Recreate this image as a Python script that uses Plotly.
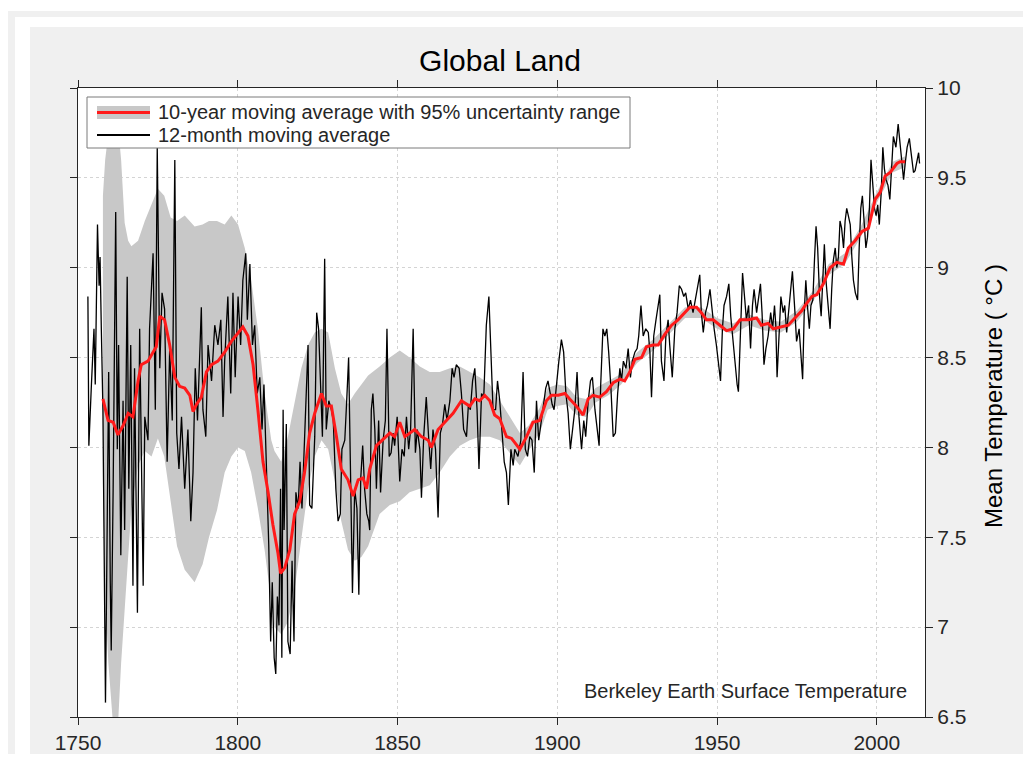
import plotly.graph_objects as go

# ---------------- data ----------------
black_year = [
    1753.1, 1753.4, 1754.2, 1755.0, 1755.4, 1756.1, 1756.6, 1756.9, 1757.3, 1757.8,
    1758.6, 1759.2, 1759.6, 1760.1, 1760.4, 1761.0, 1761.8, 1762.3, 1762.7, 1763.4,
    1764.1, 1764.6, 1765.4, 1765.9, 1766.5, 1767.2, 1767.7, 1768.6, 1769.3, 1770.4,
    1770.9, 1771.9, 1772.4, 1773.5, 1774.2, 1774.8, 1775.6, 1776.3, 1777.1, 1777.9,
    1778.7, 1779.5, 1780.3, 1780.9, 1781.6, 1782.4, 1783.4, 1784.4, 1785.3, 1786.0,
    1786.7, 1787.4, 1788.1, 1788.6, 1789.1, 1790.0, 1790.7, 1791.8, 1792.8, 1793.8,
    1794.7, 1795.4, 1795.9, 1796.9, 1797.8, 1798.5, 1799.2, 1800.1, 1800.9, 1801.6,
    1802.5, 1803.0, 1803.8, 1804.6, 1805.3, 1806.1, 1806.9, 1807.6, 1808.2, 1808.9,
    1809.7, 1810.3, 1810.8, 1811.4, 1811.9, 1812.4, 1812.9, 1813.4, 1813.8, 1814.2,
    1814.5, 1815.2, 1815.7, 1816.4, 1817.0, 1817.6, 1818.2, 1818.9, 1819.5, 1820.1,
    1820.9, 1821.8, 1822.0, 1822.5, 1823.2, 1824.1, 1824.7, 1825.3, 1826.0, 1826.5,
    1827.2, 1827.7, 1828.5, 1829.3, 1829.9, 1830.7, 1831.4, 1832.1, 1832.6, 1833.5,
    1834.1, 1834.7, 1835.4, 1835.9, 1836.6, 1837.3, 1837.9, 1838.5, 1839.1, 1839.7,
    1840.4, 1841.0, 1841.3, 1841.8, 1842.3, 1842.9, 1843.4, 1844.1, 1844.7, 1845.5,
    1846.2, 1846.7, 1847.4, 1848.0, 1848.6, 1849.1, 1849.9, 1850.7, 1851.4, 1852.1,
    1852.8, 1853.5, 1854.1, 1854.9, 1855.6, 1856.2, 1857.0, 1857.5, 1858.2, 1859.0,
    1859.8, 1860.4, 1861.1, 1861.9, 1862.7, 1863.4, 1864.1, 1864.8, 1865.5, 1866.4,
    1867.1, 1867.7, 1868.4, 1869.3, 1870.0, 1870.7, 1871.6, 1872.2, 1872.8, 1873.5,
    1874.2, 1874.9, 1875.5, 1876.3, 1877.0, 1877.8, 1878.6, 1879.2, 1879.9, 1880.7,
    1881.3, 1882.0, 1882.7, 1883.4, 1884.1, 1884.7, 1885.5, 1886.2, 1886.7, 1887.7,
    1888.6, 1889.3, 1890.0, 1890.7, 1891.4, 1892.1, 1892.8, 1893.5, 1894.2, 1895.1,
    1895.9, 1896.4, 1897.1, 1897.7, 1898.4, 1899.0, 1899.7, 1900.5, 1901.3, 1902.0,
    1902.7, 1903.4, 1904.1, 1904.8, 1905.5, 1906.2, 1906.8, 1907.6, 1908.3, 1908.9,
    1909.7, 1910.4, 1911.0, 1911.8, 1912.5, 1913.1, 1913.6, 1914.3, 1914.9, 1915.5,
    1916.1, 1916.8, 1917.5, 1918.2, 1918.9, 1919.6, 1920.1, 1920.7, 1921.5, 1922.2,
    1922.9, 1923.5, 1924.3, 1925.0, 1925.5, 1926.2, 1926.9, 1927.7, 1928.5, 1929.0,
    1929.5, 1930.2, 1930.9, 1931.4, 1932.1, 1932.6, 1933.4, 1934.0, 1934.7, 1935.2,
    1936.0, 1936.8, 1937.5, 1938.2, 1938.9, 1939.6, 1940.2, 1941.0, 1941.7, 1942.5,
    1943.4, 1944.1, 1944.6, 1945.1, 1945.7, 1946.4, 1947.0, 1947.8, 1948.5, 1949.1,
    1949.8, 1950.6, 1951.1, 1951.7, 1952.2, 1953.0, 1953.7, 1954.3, 1955.1, 1955.7,
    1956.3, 1956.7, 1957.4, 1958.0, 1958.7, 1959.2, 1959.9, 1960.5, 1961.1, 1961.6,
    1962.4, 1963.0, 1963.6, 1964.1, 1964.7, 1965.3, 1966.0, 1966.8, 1967.4, 1968.0,
    1968.4, 1968.8, 1969.5, 1970.0, 1970.7, 1971.2, 1971.8, 1972.3, 1973.0, 1973.6,
    1974.4, 1974.9, 1975.7, 1976.5, 1976.8, 1977.3, 1977.8, 1978.3, 1978.9, 1979.4,
    1980.0, 1980.5, 1981.0, 1981.5, 1982.1, 1982.6, 1983.1, 1983.6, 1984.1, 1984.7,
    1985.4, 1985.9, 1986.4, 1987.0, 1987.5, 1988.0, 1988.5, 1989.0, 1989.6, 1990.1,
    1990.6, 1991.1, 1991.7, 1992.2, 1992.7, 1993.3, 1994.0, 1994.5, 1995.0, 1995.5,
    1996.0, 1996.6, 1997.1, 1997.7, 1998.2, 1998.8, 1999.3, 1999.8, 2000.3, 2000.8,
    2001.4, 2001.9, 2002.4, 2002.9, 2003.5, 2004.1, 2004.6, 2005.2, 2006.0, 2006.7,
    2007.3, 2007.8, 2008.4, 2008.9, 2009.5, 2010.2, 2011.0, 2011.5, 2012.0, 2012.5,
    2013.1, 2013.4,
]
black_temp = [
    8.84, 8.01, 8.35, 8.66, 8.35, 9.24, 8.90, 9.06, 8.66, 8.21,
    6.58, 7.77, 8.42, 7.25, 6.87, 7.77, 9.31, 7.99, 8.57, 7.40,
    8.26, 7.54, 8.95, 7.77, 8.57, 7.23, 8.44, 7.08, 8.66, 7.23,
    8.17, 8.04, 8.66, 9.08, 8.21, 9.67, 8.44, 8.86, 8.77, 7.92,
    8.55, 8.15, 9.60, 8.08, 7.88, 8.17, 7.77, 8.10, 7.59, 7.86,
    8.44, 8.15, 8.53, 8.78, 8.21, 8.06, 8.57, 8.37, 8.68, 8.57,
    8.71, 8.17, 8.48, 8.84, 8.30, 8.86, 8.39, 8.84, 8.57, 8.93,
    9.08, 8.71, 9.02, 8.57, 8.68, 8.30, 8.39, 8.10, 8.35, 7.90,
    7.46, 6.92, 7.25, 6.83, 6.74, 7.17, 7.01, 7.77, 6.83, 8.21,
    7.54, 8.13, 6.92, 6.85, 7.37, 6.92, 7.75, 7.66, 7.92, 7.66,
    8.08, 8.48, 8.57, 7.68, 7.66, 8.06, 8.75, 8.66, 8.33, 8.06,
    9.05, 8.10, 8.26, 8.21, 8.15, 7.77, 7.59, 7.63, 7.99, 8.04,
    8.26, 8.50, 7.75, 7.19, 7.77, 7.66, 7.18, 7.83, 8.01, 7.77,
    7.63, 7.59, 7.54, 8.21, 8.30, 8.10, 7.77, 8.15, 7.75, 8.04,
    8.15, 8.66, 7.95, 7.97, 8.08, 8.01, 8.17, 7.81, 7.99, 7.95,
    8.17, 7.99, 8.10, 8.66, 7.97, 8.10, 7.99, 7.72, 8.06, 8.28,
    8.04, 7.88, 8.10, 7.99, 7.61, 8.08, 8.13, 8.24, 8.15, 8.26,
    8.44, 8.39, 8.46, 8.44, 8.30, 8.10, 8.06, 8.24, 8.21, 8.37,
    8.44, 8.21, 7.88, 8.30, 8.28, 8.68, 8.84, 8.57, 8.21, 8.21,
    8.37, 8.26, 8.10, 7.92, 7.86, 7.68, 7.99, 7.90, 7.99, 7.95,
    8.04, 8.42, 7.99, 7.95, 8.06, 8.04, 7.86, 8.26, 8.04, 8.15,
    8.26, 8.33, 8.37, 8.30, 8.24, 8.21, 8.35, 8.48, 8.60, 8.53,
    8.30, 8.19, 7.99, 8.10, 8.21, 8.42, 8.17, 7.99, 8.15, 8.06,
    8.26, 8.37, 8.39, 8.21, 8.08, 8.01, 8.35, 8.66, 8.62, 8.66,
    8.53, 8.33, 8.06, 8.08, 8.30, 8.44, 8.37, 8.48, 8.44, 8.55,
    8.39, 8.48, 8.53, 8.55, 8.62, 8.79, 8.62, 8.66, 8.64, 8.53,
    8.28, 8.62, 8.71, 8.77, 8.85, 8.48, 8.37, 8.62, 8.71, 8.57,
    8.39, 8.66, 8.75, 8.90, 8.88, 8.84, 8.86, 8.77, 8.82, 8.75,
    8.84, 8.91, 8.96, 8.75, 8.64, 8.75, 8.79, 8.88, 8.75, 8.66,
    8.57, 8.44, 8.37, 8.66, 8.79, 8.84, 8.91, 8.73, 8.57, 8.44,
    8.35, 8.31, 8.66, 8.97, 8.82, 8.71, 8.79, 8.55, 8.79, 8.88,
    8.75, 8.82, 8.91, 8.75, 8.46, 8.55, 8.62, 8.75, 8.66, 8.79,
    8.68, 8.39, 8.66, 8.84, 8.75, 8.79, 8.64, 8.73, 8.88, 8.98,
    8.75, 8.59, 8.66, 8.44, 8.38, 8.75, 8.93, 8.79, 8.66, 8.79,
    8.82, 9.04, 9.23, 9.11, 8.84, 8.73, 8.97, 9.13, 8.93, 8.79,
    8.66, 8.88, 9.04, 9.11, 9.00, 9.06, 9.26, 9.22, 9.11, 9.26,
    9.33, 9.29, 9.24, 9.06, 8.93, 8.86, 8.82, 9.11, 9.33, 9.40,
    9.24, 9.11, 9.17, 9.33, 9.60, 9.46, 9.33, 9.29, 9.35, 9.24,
    9.42, 9.67, 9.55, 9.49, 9.46, 9.38, 9.55, 9.73, 9.67, 9.80,
    9.69, 9.60, 9.49, 9.58, 9.67, 9.72, 9.60, 9.53, 9.54, 9.58,
    9.64, 9.58,
]

red_year = [
    1757.8, 1759.4, 1761.0, 1762.5, 1764.1, 1765.7, 1767.2, 1768.8, 1769.8, 1771.9,
    1773.5, 1774.5, 1775.6, 1777.1, 1778.7, 1780.3, 1781.8, 1783.4, 1785.0, 1786.0,
    1787.1, 1788.6, 1790.2, 1791.8, 1793.8, 1795.9, 1798.0, 1800.1, 1801.6, 1803.2,
    1804.8, 1806.3, 1807.9, 1809.5, 1811.0, 1812.6, 1813.4, 1814.7, 1816.3, 1817.8,
    1819.4, 1820.9, 1822.5, 1824.1, 1826.2, 1827.7, 1829.3, 1830.9, 1832.4, 1834.5,
    1836.1, 1837.7, 1839.2, 1840.3, 1841.3, 1843.4, 1846.0, 1847.6, 1849.1, 1850.7,
    1852.3, 1855.4, 1857.5, 1859.6, 1860.6, 1862.7, 1865.3, 1867.4, 1870.0, 1872.6,
    1874.2, 1875.7, 1877.3, 1878.9, 1880.4, 1882.0, 1884.1, 1885.7, 1888.3, 1890.4,
    1892.4, 1894.5, 1896.6, 1898.2, 1900.3, 1902.4, 1903.9, 1906.0, 1908.1, 1909.7,
    1911.2, 1913.3, 1915.4, 1917.5, 1919.6, 1921.1, 1922.7, 1924.3, 1926.4, 1927.9,
    1930.0, 1931.6, 1933.7, 1935.8, 1937.8, 1939.4, 1941.5, 1943.6, 1945.1, 1946.7,
    1948.8, 1950.9, 1953.0, 1955.1, 1957.2, 1959.8, 1962.4, 1963.9, 1966.0, 1967.6,
    1970.2, 1972.3, 1974.4, 1976.5, 1977.6, 1979.7, 1981.2, 1983.3, 1985.4, 1987.5,
    1989.6, 1991.1, 1993.2, 1995.3, 1997.4, 1999.5, 2001.1, 2002.6, 2004.2, 2006.3,
    2007.3, 2008.9,
]
red_temp = [
    8.27, 8.15, 8.14, 8.07, 8.12, 8.19, 8.17, 8.37, 8.46, 8.48,
    8.53, 8.56, 8.73, 8.71, 8.57, 8.39, 8.34, 8.33, 8.29, 8.20,
    8.24, 8.28, 8.42, 8.46, 8.48, 8.53, 8.59, 8.64, 8.67, 8.62,
    8.46, 8.21, 7.92, 7.75, 7.57, 7.41, 7.30, 7.33, 7.43, 7.63,
    7.70, 7.86, 8.08, 8.19, 8.30, 8.23, 8.23, 8.06, 7.88, 7.82,
    7.73, 7.82, 7.83, 7.77, 7.88, 8.01, 8.05, 8.08, 8.06, 8.14,
    8.06, 8.10, 8.06, 8.04, 8.00, 8.10, 8.15, 8.19, 8.26, 8.23,
    8.27, 8.26, 8.29, 8.26, 8.18, 8.16, 8.06, 8.05, 7.99, 8.06,
    8.14, 8.15, 8.26, 8.29, 8.29, 8.30, 8.27, 8.23, 8.18, 8.27,
    8.29, 8.28, 8.31, 8.36, 8.38, 8.37, 8.42, 8.49, 8.50, 8.56,
    8.57, 8.57, 8.63, 8.68, 8.71, 8.74, 8.78, 8.78, 8.75, 8.71,
    8.71, 8.68, 8.65, 8.66, 8.71, 8.71, 8.72, 8.68, 8.69, 8.66,
    8.67, 8.68, 8.72, 8.76, 8.79, 8.84, 8.85, 8.91, 9.00, 9.03,
    9.02, 9.11, 9.15, 9.20, 9.22, 9.38, 9.42, 9.51, 9.53, 9.58,
    9.59, 9.59,
]

band_year = [
    1757.8, 1758.5, 1759.5, 1761.0, 1762.5, 1763.5, 1764.6, 1765.7, 1766.7, 1768.8,
    1770.9, 1773.0, 1775.0, 1777.0, 1779.0, 1781.0, 1783.4, 1786.5, 1789.0, 1791.0,
    1793.5, 1795.9, 1798.0, 1800.1, 1802.2, 1804.2, 1806.3, 1808.4, 1810.5, 1811.5,
    1813.6, 1815.7, 1817.8, 1819.9, 1822.0, 1824.1, 1826.2, 1828.3, 1830.4, 1832.4,
    1834.5, 1836.6, 1838.7, 1840.8, 1844.4, 1847.6, 1850.7, 1853.8, 1857.0, 1860.1,
    1863.2, 1866.4, 1869.5, 1872.6, 1875.7, 1878.9, 1882.0, 1885.1, 1888.3, 1891.0,
    1894.5, 1897.0, 1900.0, 1903.0, 1906.0, 1909.0, 1912.0, 1916.0, 1920.0, 1925.0,
    1930.0, 1935.0, 1940.0, 1945.0, 1950.0, 1955.0, 1960.0, 1965.0, 1970.0, 1975.0,
    1980.0, 1985.0, 1990.0, 1995.0, 2000.0, 2005.0, 2008.9,
]
band_upper = [
    9.40, 9.60, 9.75, 9.80, 9.80, 9.60, 9.25, 9.15, 9.12, 9.15,
    9.26, 9.35, 9.44, 9.40, 9.28, 9.26, 9.29, 9.23, 9.24, 9.26,
    9.26, 9.24, 9.29, 9.24, 9.11, 8.93, 8.66, 8.30, 8.04, 7.98,
    7.92, 8.06, 8.26, 8.44, 8.57, 8.64, 8.66, 8.64, 8.44, 8.30,
    8.24, 8.30, 8.35, 8.40, 8.45, 8.50, 8.54, 8.50, 8.45, 8.42,
    8.42, 8.44, 8.45, 8.42, 8.39, 8.35, 8.26, 8.17, 8.08, 8.12,
    8.22, 8.33, 8.35, 8.34, 8.28, 8.27, 8.33, 8.37, 8.41, 8.53,
    8.60, 8.69, 8.78, 8.78, 8.72, 8.69, 8.74, 8.71, 8.70, 8.76,
    8.87, 9.02, 9.08, 9.23, 9.42, 9.59, 9.62,
]
band_lower = [
    7.80, 7.20, 6.80, 6.45, 6.45, 6.80, 7.10, 7.40, 7.66, 7.90,
    7.98, 7.95, 8.05, 7.95, 7.70, 7.45, 7.32, 7.25, 7.35, 7.50,
    7.65, 7.86, 7.95, 8.00, 7.98, 7.86, 7.66, 7.43, 7.14, 7.00,
    6.96, 7.03, 7.21, 7.48, 7.77, 7.95, 8.04, 7.99, 7.81, 7.59,
    7.43, 7.37, 7.39, 7.45, 7.63, 7.68, 7.70, 7.75, 7.77, 7.79,
    7.86, 7.95, 8.01, 8.04, 8.06, 8.06, 8.04, 7.97, 7.90, 7.98,
    8.08, 8.21, 8.23, 8.24, 8.18, 8.17, 8.25, 8.29, 8.35, 8.47,
    8.54, 8.63, 8.72, 8.72, 8.66, 8.63, 8.68, 8.65, 8.64, 8.70,
    8.81, 8.96, 9.02, 9.17, 9.36, 9.53, 9.56,
]

x_ticks = [1750, 1800, 1850, 1900, 1950, 2000]
y_ticks = [6.5, 7, 7.5, 8, 8.5, 9, 9.5, 10]
y_tick_text = ["6.5", "7", "7.5", "8", "8.5", "9", "9.5", "10"]

title_text = "Global Land"
y_title = "Mean Temperature ( °C )"
legend_labels = ["10-year moving average with 95% uncertainty range",
                 "12-month moving average"]
credit_text = "Berkeley Earth Surface Temperature"

# ---------------- layout geometry ----------------
# The page body has an 8 px margin, so the figure is drawn 8 px in from the
# window's top-left corner; all screen positions below are shifted by OFF.
OFF = 8
W, H = 1031 - 2 * OFF, 762 - 2 * OFF
SCR_L, SCR_R, SCR_T, SCR_B = 78, 925, 88, 717      # plot area on screen
ML, MT = SCR_L - OFF, SCR_T - OFF
MR, MB = W - (SCR_R - OFF), H - (SCR_B - OFF)
PW, PH = W - ML - MR, H - MT - MB
FONT = "Liberation Sans, Arial, Helvetica, sans-serif"
TXT = "#262626"


def px(sx):
    return (sx - OFF - ML) / PW


def py(sy):
    return (H - MB - (sy - OFF)) / PH


fig = go.Figure()

# uncertainty band (closed polygon)
fig.add_trace(go.Scatter(
    x=band_year + band_year[::-1],
    y=band_upper + band_lower[::-1],
    fill="toself", fillcolor="#c8c8c8",
    line=dict(width=0), mode="lines",
    hoverinfo="skip", showlegend=False,
))
# 12-month moving average
fig.add_trace(go.Scatter(
    x=black_year, y=black_temp, mode="lines",
    line=dict(color="#000000", width=1.3),
    showlegend=False,
))
# 10-year moving average
fig.add_trace(go.Scatter(
    x=red_year, y=red_temp, mode="lines",
    line=dict(color="#ff1a1a", width=3),
    showlegend=False,
))

shapes = []
# page decorations around the figure area
for (x0, x1, y0, y1, col) in [
    (OFF, 1031, OFF, 11, "#ffffff"),
    (OFF, 1031, 11, 17, "#f0f0f0"),
    (15, 1031, 17, 27, "#ffffff"),
    (15, 30, 17, 762, "#ffffff"),
]:
    shapes.append(dict(type="rect", xref="paper", yref="paper", layer="below",
                       x0=px(x0), x1=px(x1), y0=py(y1), y1=py(y0),
                       fillcolor=col, line=dict(width=0)))

# legend box
shapes.append(dict(type="rect", xref="paper", yref="paper", layer="above",
                   x0=px(87), x1=px(630), y0=py(148), y1=py(97),
                   fillcolor="#ffffff", line=dict(color="#7a7a7a", width=1)))
shapes.append(dict(type="rect", xref="paper", yref="paper", layer="above",
                   x0=px(97), x1=px(150), y0=py(119), y1=py(106),
                   fillcolor="#c8c8c8", line=dict(width=0)))
shapes.append(dict(type="line", xref="paper", yref="paper", layer="above",
                   x0=px(97), x1=px(150), y0=py(112.5), y1=py(112.5),
                   line=dict(color="#ff1a1a", width=3)))
shapes.append(dict(type="line", xref="paper", yref="paper", layer="above",
                   x0=px(97), x1=px(150), y0=py(135), y1=py(135),
                   line=dict(color="#000000", width=2)))

annotations = [
    dict(text=legend_labels[0], xref="paper", yref="paper",
         x=px(156), y=py(112), xanchor="left", yanchor="middle",
         showarrow=False, font=dict(family=FONT, size=20, color=TXT)),
    dict(text=legend_labels[1], xref="paper", yref="paper",
         x=px(156), y=py(135), xanchor="left", yanchor="middle",
         showarrow=False, font=dict(family=FONT, size=20, color=TXT)),
    dict(text=credit_text, xref="paper", yref="paper",
         x=px(909), y=py(691), xanchor="right", yanchor="middle",
         showarrow=False, font=dict(family=FONT, size=20, color=TXT)),
    dict(text=y_title, xref="paper", yref="paper",
         x=px(993), y=py(396), xanchor="center", yanchor="middle",
         textangle=-90, showarrow=False,
         font=dict(family=FONT, size=24, color="#000000")),
]

fig.update_layout(
    width=W, height=H, autosize=False,
    margin=dict(l=ML, r=MR, t=MT, b=MB, pad=0, autoexpand=False),
    paper_bgcolor="#f0f0f0", plot_bgcolor="#ffffff",
    font=dict(family=FONT, color=TXT, size=21),
    title=dict(text=title_text, x=px(500), xref="paper",
               y=1 - (60 - OFF) / H, yref="container",
               xanchor="center", yanchor="middle",
               font=dict(family=FONT, size=30, color="#000000")),
    shapes=shapes, annotations=annotations,
    showlegend=False,
)

fig.update_xaxes(
    range=[1750, 2015.1], tickvals=x_ticks, ticktext=[str(v) for v in x_ticks],
    automargin=False,
    ticks="outside", ticklen=7, tickwidth=1.2, tickcolor=TXT,
    showline=True, linecolor=TXT, linewidth=1.2, mirror="ticks",
    showgrid=True, gridcolor="#d4d4d4", gridwidth=1, griddash="dot",
    zeroline=False, tickfont=dict(family=FONT, size=21, color=TXT),
)
fig.update_yaxes(
    range=[6.5, 10], side="right", tickvals=y_ticks, ticktext=y_tick_text,
    automargin=False,
    ticks="outside", ticklen=7, tickwidth=1.2, tickcolor=TXT,
    showline=True, linecolor=TXT, linewidth=1.2, mirror="ticks",
    showgrid=True, gridcolor="#d4d4d4", gridwidth=1, griddash="dot",
    zeroline=False, tickfont=dict(family=FONT, size=21, color=TXT),
)

fig.write_html("out.html")
